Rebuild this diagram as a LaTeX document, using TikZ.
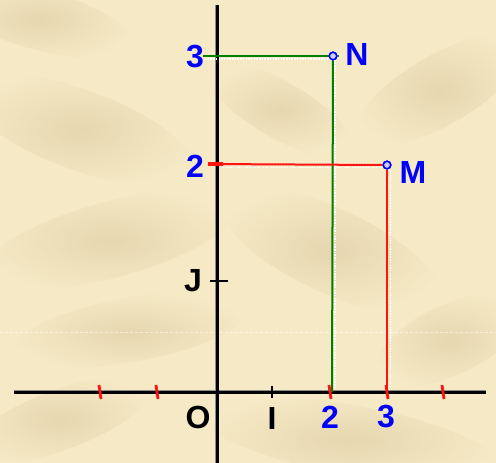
\documentclass[tikz,border=0pt]{standalone}
\usepackage{fontspec}
\setmainfont{Liberation Sans}
\definecolor{paper}{RGB}{246,234,198}
\definecolor{crease}{RGB}{205,186,142}
\definecolor{lgreen}{RGB}{0,128,0}
\definecolor{lred}{RGB}{255,20,20}
\definecolor{lblue}{RGB}{0,0,255}
\begin{document}
\begin{tikzpicture}[x=1pt,y=-1pt,
  lbl/.style={font=\fontsize{32}{32}\selectfont\bfseries, inner sep=0pt, anchor=center},
  bluelbl/.style={lbl, text=lblue},
  blacklbl/.style={lbl, text=black},
  axisback/.style={line width=4.6pt, black!45},
  axisfront/.style={line width=3pt, black},
  redtick/.style={line width=2.8pt, lred},
  blacktick/.style={line width=2.8pt, black},
  greenl/.style={line width=2pt, lgreen},
  redl/.style={line width=2pt, lred},
  shadowl/.style={line width=1.6pt, white, dash pattern=on 1.5pt off 1.2pt},
  ptmark/.style={circle, draw=lblue, fill=blue!20, line width=1.5pt, minimum size=7.5pt, inner sep=0pt},
  blotch/.style={inner color=crease, outer color=paper, opacity=0.4}
]
\useasboundingbox (0,0) rectangle (496,463);
\fill[paper] (0,0) rectangle (496,463);
% paper texture (soft creases)
\shade[blotch, rotate around={-20:(80,130)}] (80,130) ellipse (120 and 40);
\shade[blotch, rotate around={15:(110,240)}] (110,240) ellipse (130 and 38);
\shade[blotch, rotate around={-25:(330,250)}] (330,250) ellipse (120 and 42);
\shade[blotch, rotate around={30:(440,90)}] (440,90) ellipse (95 and 35);
\shade[blotch, rotate around={10:(130,330)}] (130,330) ellipse (120 and 32);
\shade[blotch, rotate around={-10:(350,440)}] (350,440) ellipse (150 and 35);
\shade[blotch, rotate around={-15:(40,20)}] (40,20) ellipse (95 and 30);
\shade[blotch, rotate around={25:(450,340)}] (450,340) ellipse (80 and 35);
\shade[blotch, rotate around={-30:(280,110)}] (280,110) ellipse (85 and 28);
\shade[blotch, rotate around={20:(60,420)}] (60,420) ellipse (95 and 30);
\draw[white, opacity=0.5, line width=0.8pt, dash pattern=on 3pt off 2pt] (0,332) -- (496,332);
% axes
\coordinate (xl) at (14,392);
\coordinate (xr) at (486,392);
\coordinate (yt) at (217,5);
\coordinate (yb) at (217,463);
\draw[axisback] (xl) -- (xr);
\draw[axisback] (yt) -- (yb);
\draw[axisfront] (xl) -- (xr);
\draw[axisfront] (yt) -- (yb);
% ticks
\foreach \t in {100,157,443}{
  \draw[redtick] (\t-1,385) -- (\t+1,399);
}
\coordinate (tI1) at (272,386);
\coordinate (tI2) at (272,398);
\draw[blacktick] (tI1) -- (tI2);
\coordinate (tJ1) at (210,281);
\coordinate (tJ2) at (228,281);
\draw[blacktick] (tJ1) -- (tJ2);
% points
\node[ptmark] (N) at (333,56) {};
\node[ptmark] (M) at (387,165) {};
\coordinate (Ny) at (203,56);
\coordinate (Nend) at (338,56);
\coordinate (Nx) at (332,392);
\coordinate (My) at (208,164);
\coordinate (Mx) at (387,392);
% shadows
\draw[shadowl] (205,59) -- (331,59);
\draw[shadowl] (335,60) -- (335,388);
\draw[shadowl] (222,167.5) -- (384,167.5);
\draw[shadowl] (390.5,170) -- (390.5,388);
% green construction
\draw[greenl] (Ny) -- (N.west);
\draw[greenl] (N.east) -- (Nend);
\draw[greenl] (N.south) -- (Nx);
% red construction
\draw[redl] (My) -- (M.west);
\draw[redl] (M.south) -- (Mx);
\draw[line width=3.8pt, lred] (My) -- ++(15,0);
\draw[redtick] (329,385) -- (331,399);
\draw[redtick] (386,385) -- (388,399);
\node[ptmark] at (N) {};
\node[ptmark] at (M) {};
% labels
\node[bluelbl] (l3y) at (195,57) {3};
\node[bluelbl] (l2y) at (195,166) {2};
\node[blacklbl] (lJ) at (193,281) {J};
\node[blacklbl] (lO) at (198,417) {O};
\node[blacklbl] (lI) at (272,418) {I};
\node[bluelbl] (l2x) at (330,417) {2};
\node[bluelbl] (l3x) at (386,417) {3};
\node[bluelbl] (lN) at (357,54) {N};
\node[bluelbl] (lM) at (413,172) {M};
\end{tikzpicture}
\end{document}
